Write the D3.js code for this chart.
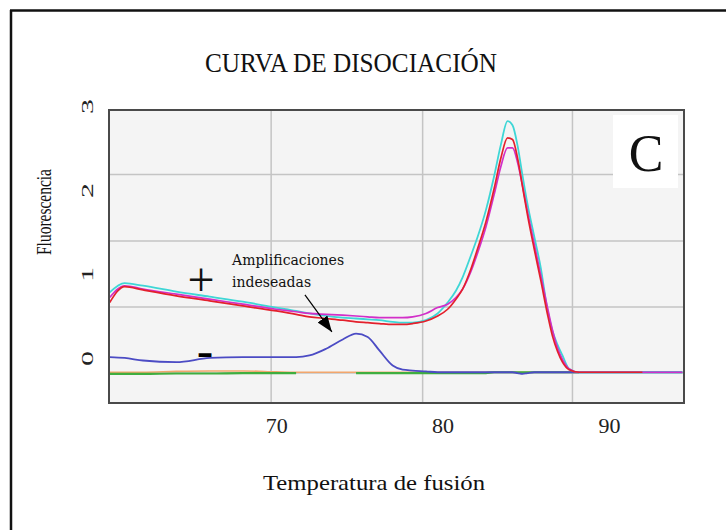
<!DOCTYPE html>
<html><head><meta charset="utf-8">
<script src="https://cdn.jsdelivr.net/npm/d3@7"></script>
<style>html,body{margin:0;padding:0;background:#fff;} svg{display:block;}</style>
</head><body><svg id="c" width="726" height="530"></svg>
<script>
// ---- data ----
const temps = [60.0, 60.9, 62, 64, 66, 68, 70, 71.2, 72, 73, 74, 74.8, 75.5, 76.2, 77, 77.6, 78.2, 79, 79.7, 80.3, 80.8, 81.2, 81.7, 82.1, 82.6, 83.1, 83.5, 83.9, 84.2, 84.5, 84.8, 85.1, 85.5, 85.9, 86.3, 86.6, 86.9, 87.2, 87.6, 88.2, 89, 90, 92, 94.4];
const cyanF = [0.78, 0.89, 0.86, 0.79, 0.73, 0.67, 0.60, 0.56, 0.53, 0.50, 0.48, 0.47, 0.46, 0.45, 0.43, 0.42, 0.42, 0.45, 0.53, 0.66, 0.80, 0.96, 1.22, 1.44, 1.76, 2.17, 2.54, 2.82, 2.77, 2.53, 2.17, 1.83, 1.45, 1.07, 0.57, 0.32, 0.16, 0.03, -0.13, -0.17, -0.17, -0.17, -0.17, -0.17];
const redF = [0.66, 0.85, 0.81, 0.74, 0.68, 0.62, 0.56, 0.52, 0.49, 0.47, 0.45, 0.43, 0.42, 0.41, 0.40, 0.40, 0.41, 0.44, 0.50, 0.58, 0.70, 0.82, 1.06, 1.30, 1.62, 2.02, 2.38, 2.62, 2.60, 2.38, 2.04, 1.70, 1.30, 0.92, 0.52, 0.26, 0.08, -0.05, -0.14, -0.17, -0.17, -0.17, -0.17, null];
const magentaF = [0.72, 0.86, 0.82, 0.76, 0.70, 0.64, 0.58, 0.55, 0.53, 0.52, 0.51, 0.50, 0.49, 0.48, 0.48, 0.48, 0.49, 0.53, 0.60, 0.64, 0.72, 0.82, 1.03, 1.25, 1.56, 1.95, 2.28, 2.50, 2.50, 2.33, 2.05, 1.74, 1.36, 0.98, 0.60, 0.33, 0.12, -0.02, -0.13, -0.17, -0.17, -0.17, -0.17, -0.17];
const blueF = [0.01, 0.0, -0.03, -0.05, 0.0, 0.01, 0.01, 0.01, 0.03, 0.11, 0.22, 0.29, 0.25, 0.09, -0.09, -0.14, -0.15, -0.16, -0.17, -0.17, -0.17, -0.17, -0.17, -0.17, -0.17, -0.17, -0.17, -0.17, -0.17, -0.18, -0.19, -0.18, -0.17, -0.17, -0.17, -0.17, -0.17, -0.17, -0.17, -0.17, -0.17, -0.17, -0.17, -0.17];
const greenF = [-0.19, -0.19, -0.19, -0.185, -0.185, -0.18, -0.18, -0.18, null, null, null, -0.18, -0.18, -0.18, -0.18, -0.18, -0.18, -0.18, -0.18, -0.18, -0.18, -0.18, -0.18, -0.18, -0.18, -0.17, -0.17, -0.17, -0.17, -0.17, -0.17, -0.17, -0.17, -0.17, -0.17, -0.17, -0.17, -0.17, -0.17, -0.17, null, null, null, null];
const orangeF = [-0.17, -0.17, -0.17, -0.16, -0.155, -0.155, -0.165, -0.17, -0.17, -0.17, -0.17, -0.17, -0.17, -0.17, -0.17, -0.17, -0.17, -0.17, -0.17, -0.17, -0.17, -0.17, -0.17, -0.17, -0.17, -0.17, -0.17, -0.17, -0.17, -0.17, -0.17, -0.17, -0.17, -0.17, -0.17, -0.17, -0.17, -0.17, -0.17, -0.17, -0.17, -0.17, -0.17, -0.17];
const xTicks = [70, 80, 90];
const yTicks = [0, 1, 2, 3];
const gridX = [69.7, 78.8, 87.8];
const gridY = [2.185, 1.393, 0.607, -0.179];
const titleText = "CURVA DE DISOCIACIÓN";
const xLabel = "Temperatura de fusión";
const yLabel = "Fluorescencia";
const panelLabel = "C";
const annotLines = ["Amplificaciones", "indeseadas"];
const annotPos = [67.35, 1.107];
const arrowFrom = [71.73, 0.75];
const arrowTo = [73.35, 0.31];
const plusPos = [65.49, 0.875];
const minusPos = [65.73, 0.036];

// ---- drawing ----
const svg = d3.select('#c');
const P = {left: 109, right: 684, top: 110, bottom: 403};
const x = d3.scaleLinear().domain([59.96, 94.5]).range([P.left, P.right]);
const y = d3.scaleLinear().domain([-0.536, 2.952]).range([P.bottom, P.top]);
const serif = '"Liberation Serif", "Times New Roman", serif';

// outer frame (top and left edges)
svg.append('line').attr('x1', 10).attr('x2', 726).attr('y1', 10.5).attr('y2', 10.5).attr('stroke', '#111').attr('stroke-width', 2.5);
svg.append('line').attr('x1', 11).attr('x2', 11).attr('y1', 10).attr('y2', 530).attr('stroke', '#111').attr('stroke-width', 2.5);

// title
svg.append('text').attr('x', 351).attr('y', 72).attr('text-anchor', 'middle')
  .attr('font-family', serif).attr('font-size', 27).attr('textLength', 292).attr('lengthAdjust', 'spacingAndGlyphs')
  .attr('fill', '#111').text(titleText);

// plot background
svg.append('rect').attr('x', P.left).attr('y', P.top).attr('width', P.right - P.left).attr('height', P.bottom - P.top)
  .attr('fill', '#f4f4f4');

// grid
svg.append('g').selectAll('line').data(gridX).join('line')
  .attr('x1', d => x(d)).attr('x2', d => x(d)).attr('y1', P.top).attr('y2', P.bottom)
  .attr('stroke', '#c4c4c4').attr('stroke-width', 1.5);
svg.append('g').selectAll('line').data(gridY).join('line')
  .attr('x1', P.left).attr('x2', P.right).attr('y1', d => y(d)).attr('y2', d => y(d))
  .attr('stroke', '#c4c4c4').attr('stroke-width', 1.5);

// panel label box
svg.append('rect').attr('x', 613).attr('y', 115).attr('width', 65).attr('height', 73).attr('fill', '#fff');
svg.append('text').attr('x', 646).attr('y', 171).attr('text-anchor', 'middle')
  .attr('font-family', serif).attr('font-size', 52).attr('fill', '#111').text(panelLabel);

// series
svg.append('clipPath').attr('id', 'clip').append('rect')
  .attr('x', P.left).attr('y', P.top).attr('width', P.right - P.left).attr('height', P.bottom - P.top);
const gLines = svg.append('g').attr('clip-path', 'url(#clip)');
const series = [
  {vals: orangeF, color: '#f2a66c', w: 1.6},
  {vals: greenF, color: '#3fae3f', w: 2.2},
  {vals: blueF, color: '#4b4bc4', w: 1.8},
  {vals: cyanF, color: '#3ed6d6', w: 1.8},
  {vals: magentaF, color: '#d22fc8', w: 1.7},
  {vals: redF, color: '#e3202c', w: 1.7}
];
const line = d3.line().defined(d => d[1] !== null).x(d => x(d[0])).y(d => y(d[1])).curve(d3.curveMonotoneX);
series.forEach(s => {
  gLines.append('path').datum(temps.map((t, i) => [t, s.vals[i]]))
    .attr('d', line).attr('fill', 'none').attr('stroke', s.color).attr('stroke-width', s.w)
    .attr('stroke-linejoin', 'round');
});

// plot border
svg.append('rect').attr('x', P.left).attr('y', P.top).attr('width', P.right - P.left).attr('height', P.bottom - P.top)
  .attr('fill', 'none').attr('stroke', '#4a4a4a').attr('stroke-width', 2);

// x axis
const gx = svg.append('g').attr('transform', `translate(0,${P.bottom})`)
  .call(d3.axisBottom(x).tickValues(xTicks).tickSize(0).tickPadding(14.5).tickFormat(d3.format('d')));
gx.select('.domain').remove();
gx.selectAll('text').attr('font-family', serif).attr('font-size', 22).attr('fill', '#222');

// y axis
const gy = svg.append('g').attr('transform', `translate(${P.left},0)`)
  .call(d3.axisLeft(y).tickValues(yTicks).tickSize(0).tickFormat(d3.format('d')));
gy.select('.domain').remove();
gy.selectAll('text').attr('x', null).attr('dy', null)
  .attr('transform', 'translate(-21.5,0) rotate(-90)')
  .attr('text-anchor', 'middle').attr('dominant-baseline', 'central')
  .attr('font-family', serif).attr('font-size', 17)
  .attr('textLength', 15).attr('lengthAdjust', 'spacingAndGlyphs').attr('fill', '#222');

// axis titles
svg.append('text').attr('x', 374).attr('y', 490).attr('text-anchor', 'middle')
  .attr('font-family', serif).attr('font-size', 22).attr('textLength', 222).attr('lengthAdjust', 'spacingAndGlyphs')
  .attr('fill', '#111').text(xLabel);
svg.append('text').attr('transform', 'translate(43.5,212) rotate(-90)').attr('text-anchor', 'middle')
  .attr('dominant-baseline', 'central')
  .attr('font-family', serif).attr('font-size', 21).attr('textLength', 86).attr('lengthAdjust', 'spacingAndGlyphs')
  .attr('fill', '#111').text(yLabel);

// annotation
const ann = svg.append('text').attr('font-family', '"DejaVu Serif", serif').attr('font-size', 14).attr('fill', '#111');
annotLines.forEach((t, i) => {
  ann.append('tspan').attr('x', x(annotPos[0])).attr('y', y(annotPos[1]) + i * 22).text(t);
});
svg.append('defs').append('marker').attr('id', 'arr').attr('markerUnits', 'userSpaceOnUse')
  .attr('markerWidth', 16).attr('markerHeight', 12).attr('refX', 16).attr('refY', 6).attr('orient', 'auto')
  .append('path').attr('d', 'M0,0 L16,6 L0,12 Z').attr('fill', '#000');
svg.append('line').attr('x1', x(arrowFrom[0])).attr('y1', y(arrowFrom[1]))
  .attr('x2', x(arrowTo[0])).attr('y2', y(arrowTo[1]))
  .attr('stroke', '#000').attr('stroke-width', 1.2).attr('marker-end', 'url(#arr)');

// + and − markers
svg.append('text').attr('x', x(plusPos[0])).attr('y', y(plusPos[1])).attr('dy', '0.25em')
  .attr('text-anchor', 'middle').attr('font-family', serif).attr('font-size', 48).attr('fill', '#111').text('+');
svg.append('text').attr('x', x(minusPos[0])).attr('y', y(minusPos[1])).attr('dy', '0.33em')
  .attr('text-anchor', 'middle').attr('font-family', '"DejaVu Sans", sans-serif').attr('font-weight', 'bold')
  .attr('font-size', 18).attr('fill', '#000').attr('stroke', '#000').attr('stroke-width', 1.5).text('−');
</script></body></html>
